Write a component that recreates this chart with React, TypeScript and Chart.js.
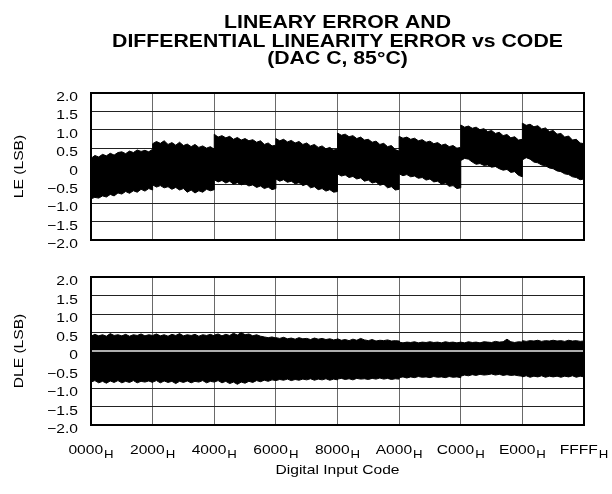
import React, { useEffect, useRef } from "react";
import { Chart, registerables } from "chart.js";
Chart.register(...registerables);

// ---------- DATA ----------
const titleLines = ["LINEARY ERROR AND", "DIFFERENTIAL LINEARITY ERROR vs CODE", "(DAC C, 85°C)"];
const xTitle = "Digital Input Code";
const leTitle = "LE (LSB)";
const dleTitle = "DLE (LSB)";

const xTickValues = [0x0000, 0x2000, 0x4000, 0x6000, 0x8000, 0xa000, 0xc000, 0xe000, 0xffff];
const xTickLabels = ["0000", "2000", "4000", "6000", "8000", "A000", "C000", "E000", "FFFF"];
const xTickSub = "H";
const yTickValues = [2, 1.5, 1, 0.5, 0, -0.5, -1, -1.5, -2];
const yTickLabels = ["2.0", "1.5", "1.0", "0.5", "0", "\u22120.5", "\u22121.0", "\u22121.5", "\u22122.0"];

// sample codes of the envelope of the noisy error band
const codes = [
  0x0000, 0x0200, 0x0400, 0x0600, 0x0800, 0x0a00, 0x0c00, 0x0e00, 0x1000, 0x1200, 0x1400, 0x1600, 0x1800, 0x1a00, 0x1c00, 0x1e00, 0x1fff,
  0x2000, 0x2200, 0x2400, 0x2600, 0x2800, 0x2a00, 0x2c00, 0x2e00, 0x3000, 0x3200, 0x3400, 0x3600, 0x3800, 0x3a00, 0x3c00, 0x3e00, 0x3fff,
  0x4000, 0x4200, 0x4400, 0x4600, 0x4800, 0x4a00, 0x4c00, 0x4e00, 0x5000, 0x5200, 0x5400, 0x5600, 0x5800, 0x5a00, 0x5c00, 0x5e00, 0x5fff,
  0x6000, 0x6200, 0x6400, 0x6600, 0x6800, 0x6a00, 0x6c00, 0x6e00, 0x7000, 0x7200, 0x7400, 0x7600, 0x7800, 0x7a00, 0x7c00, 0x7e00, 0x7fff,
  0x8000, 0x8200, 0x8400, 0x8600, 0x8800, 0x8a00, 0x8c00, 0x8e00, 0x9000, 0x9200, 0x9400, 0x9600, 0x9800, 0x9a00, 0x9c00, 0x9e00, 0x9fff,
  0xa000, 0xa200, 0xa400, 0xa600, 0xa800, 0xaa00, 0xac00, 0xae00, 0xb000, 0xb200, 0xb400, 0xb600, 0xb800, 0xba00, 0xbc00, 0xbe00, 0xbfff,
  0xc000, 0xc200, 0xc400, 0xc600, 0xc800, 0xca00, 0xcc00, 0xce00, 0xd000, 0xd200, 0xd400, 0xd600, 0xd800, 0xda00, 0xdc00, 0xde00, 0xdfff,
  0xe000, 0xe200, 0xe400, 0xe600, 0xe800, 0xea00, 0xec00, 0xee00, 0xf000, 0xf200, 0xf400, 0xf600, 0xf800, 0xfa00, 0xfc00, 0xfe00, 0xffff,
];

const leUpper = [
  0.22, 0.30, 0.26, 0.33, 0.29, 0.36, 0.31, 0.38, 0.40, 0.35, 0.42, 0.38, 0.45, 0.41, 0.44, 0.40, 0.47,
  0.62, 0.68, 0.63, 0.70, 0.60, 0.65, 0.58, 0.66, 0.57, 0.61, 0.54, 0.60, 0.52, 0.56, 0.50, 0.54, 0.47,
  0.88, 0.80, 0.84, 0.78, 0.82, 0.74, 0.79, 0.72, 0.76, 0.70, 0.73, 0.66, 0.70, 0.60, 0.64, 0.56, 0.58,
  0.76, 0.70, 0.74, 0.67, 0.71, 0.64, 0.68, 0.60, 0.64, 0.56, 0.60, 0.52, 0.56, 0.48, 0.52, 0.45, 0.47,
  0.91, 0.85, 0.88, 0.81, 0.84, 0.76, 0.80, 0.72, 0.74, 0.66, 0.69, 0.60, 0.63, 0.54, 0.57, 0.46, 0.42,
  0.82, 0.77, 0.80, 0.74, 0.77, 0.70, 0.73, 0.66, 0.69, 0.62, 0.65, 0.58, 0.61, 0.54, 0.57, 0.50, 0.52,
  1.13, 1.07, 1.10, 1.04, 1.07, 1.00, 1.03, 0.95, 0.98, 0.90, 0.93, 0.84, 0.87, 0.78, 0.81, 0.72, 0.74,
  1.18, 1.12, 1.15, 1.08, 1.11, 1.02, 1.05, 0.95, 0.98, 0.88, 0.90, 0.80, 0.83, 0.72, 0.74, 0.64, 0.62,
];
const leLower = [
  -0.88, -0.84, -0.86, -0.80, -0.83, -0.76, -0.80, -0.72, -0.75, -0.68, -0.73, -0.66, -0.70, -0.62, -0.67, -0.60, -0.64,
  -0.50, -0.56, -0.52, -0.58, -0.55, -0.62, -0.57, -0.64, -0.60, -0.70, -0.64, -0.72, -0.66, -0.70, -0.62, -0.66, -0.63,
  -0.36, -0.42, -0.38, -0.45, -0.40, -0.48, -0.44, -0.50, -0.47, -0.53, -0.50, -0.57, -0.53, -0.60, -0.56, -0.63, -0.60,
  -0.34, -0.40, -0.36, -0.43, -0.40, -0.47, -0.44, -0.52, -0.48, -0.58, -0.55, -0.63, -0.60, -0.67, -0.63, -0.70, -0.68,
  -0.20, -0.26, -0.23, -0.30, -0.27, -0.34, -0.31, -0.40, -0.37, -0.45, -0.42, -0.51, -0.48, -0.58, -0.55, -0.64, -0.62,
  -0.20, -0.25, -0.22, -0.28, -0.26, -0.32, -0.30, -0.37, -0.34, -0.42, -0.40, -0.48, -0.45, -0.54, -0.52, -0.60, -0.58,
  0.16, 0.22, 0.20, 0.12, 0.06, 0.08, 0.03, 0.04, -0.02, 0.00, -0.06, -0.10, -0.08, -0.16, -0.14, -0.24, -0.28,
  0.18, 0.24, 0.20, 0.12, 0.10, 0.04, 0.02, -0.04, -0.06, -0.12, -0.14, -0.20, -0.22, -0.28, -0.30, -0.36, -0.34,
];

const dleUpper = [
  0.40, 0.45, 0.41, 0.44, 0.40, 0.47, 0.42, 0.44, 0.41, 0.45, 0.40, 0.44, 0.42, 0.46, 0.41, 0.44, 0.42,
  0.42, 0.46, 0.41, 0.44, 0.40, 0.45, 0.42, 0.47, 0.41, 0.44, 0.42, 0.45, 0.40, 0.44, 0.42, 0.45, 0.41,
  0.43, 0.46, 0.41, 0.45, 0.42, 0.48, 0.43, 0.50, 0.44, 0.46, 0.41, 0.44, 0.40, 0.38, 0.36, 0.38, 0.35,
  0.36, 0.34, 0.37, 0.33, 0.35, 0.32, 0.36, 0.33, 0.34, 0.31, 0.35, 0.32, 0.34, 0.31, 0.33, 0.30, 0.32,
  0.33, 0.29, 0.31, 0.28, 0.32, 0.29, 0.34, 0.30, 0.28, 0.31, 0.27, 0.29, 0.28, 0.30, 0.27, 0.28, 0.27,
  0.24, 0.22, 0.24, 0.23, 0.25, 0.22, 0.24, 0.23, 0.25, 0.23, 0.24, 0.22, 0.25, 0.23, 0.24, 0.22, 0.24,
  0.24, 0.22, 0.25, 0.23, 0.24, 0.22, 0.25, 0.24, 0.23, 0.26, 0.24, 0.25, 0.32, 0.25, 0.23, 0.25, 0.24,
  0.28, 0.26, 0.28, 0.27, 0.29, 0.26, 0.28, 0.27, 0.29, 0.27, 0.28, 0.26, 0.29, 0.27, 0.28, 0.26, 0.27,
];
const dleLower = [
  -0.84, -0.80, -0.86, -0.82, -0.87, -0.81, -0.85, -0.80, -0.86, -0.82, -0.85, -0.80, -0.86, -0.82, -0.84, -0.81, -0.85,
  -0.84, -0.80, -0.86, -0.81, -0.85, -0.82, -0.88, -0.82, -0.85, -0.81, -0.86, -0.82, -0.84, -0.80, -0.86, -0.82, -0.84,
  -0.84, -0.80, -0.86, -0.82, -0.88, -0.84, -0.90, -0.84, -0.87, -0.82, -0.85, -0.80, -0.83, -0.79, -0.82, -0.78, -0.80,
  -0.80, -0.77, -0.79, -0.76, -0.80, -0.77, -0.79, -0.76, -0.78, -0.75, -0.79, -0.76, -0.78, -0.75, -0.79, -0.76, -0.78,
  -0.76, -0.74, -0.77, -0.75, -0.78, -0.74, -0.76, -0.75, -0.77, -0.74, -0.76, -0.73, -0.76, -0.74, -0.77, -0.75, -0.76,
  -0.72, -0.70, -0.73, -0.70, -0.72, -0.69, -0.71, -0.70, -0.72, -0.69, -0.71, -0.70, -0.72, -0.69, -0.71, -0.70, -0.72,
  -0.68, -0.65, -0.67, -0.64, -0.66, -0.63, -0.65, -0.64, -0.62, -0.65, -0.63, -0.66, -0.64, -0.66, -0.65, -0.67, -0.68,
  -0.70, -0.67, -0.71, -0.68, -0.70, -0.67, -0.71, -0.68, -0.70, -0.68, -0.71, -0.68, -0.70, -0.67, -0.71, -0.68, -0.70,
];
const dleZeroLine = [0, 0];
const dleZeroCodes = [0x0000, 0xffff];

// ---------- DRAWING HELPERS ----------
const FONT = "'Liberation Sans', Arial, Helvetica, sans-serif";
const SX = 1.2;

function stretchText(
  ctx: CanvasRenderingContext2D,
  text: string,
  x: number,
  y: number,
  align: "left" | "center" | "right",
  font: string,
  sx: number = SX
) {
  ctx.save();
  ctx.font = font;
  ctx.textAlign = "left";
  ctx.textBaseline = "alphabetic";
  const w = ctx.measureText(text).width * sx;
  const x0 = align === "center" ? x - w / 2 : align === "right" ? x - w : x;
  ctx.translate(x0, y);
  ctx.scale(sx, 1);
  ctx.fillStyle = "#000";
  ctx.fillText(text, 0, 0);
  ctx.restore();
  return w;
}

function textWidth(ctx: CanvasRenderingContext2D, text: string, font: string, sx: number = SX) {
  ctx.save();
  ctx.font = font;
  const w = ctx.measureText(text).width * sx;
  ctx.restore();
  return w;
}

function makeConfig(opts: {
  upper: number[];
  lower: number[];
  yTitle: string;
  padding: { left: number; right: number; top: number; bottom: number };
  isTop: boolean;
}) {
  const datasets: any[] = [
    {
      data: codes.map((c, i) => ({ x: c, y: opts.upper[i] })),
      borderColor: "#000",
      borderWidth: 1,
      pointRadius: 0,
      fill: false,
      order: 2,
    },
    {
      data: codes.map((c, i) => ({ x: c, y: opts.lower[i] })),
      borderColor: "#000",
      backgroundColor: "#000",
      borderWidth: 1,
      pointRadius: 0,
      fill: "-1",
      order: 1,
    },
  ];
  if (!opts.isTop) {
    datasets.push({
      data: dleZeroCodes.map((c, i) => ({ x: c, y: dleZeroLine[i] })),
      borderColor: "#e8e8e8",
      borderWidth: 1.5,
      pointRadius: 0,
      fill: false,
      order: -1,
    });
  }

  const textPlugin = {
    id: "texts" + (opts.isTop ? "A" : "B"),
    afterDraw(chart: any) {
      const ctx: CanvasRenderingContext2D = chart.ctx;
      const area = chart.chartArea;
      const xs = chart.scales.x;
      const ys = chart.scales.y;
      // frame
      ctx.save();
      ctx.strokeStyle = "#000";
      ctx.lineWidth = 2;
      ctx.strokeRect(area.left, area.top, area.right - area.left, area.bottom - area.top);
      ctx.restore();
      // y tick labels
      const tf = `13px ${FONT}`;
      yTickValues.forEach((v, i) => {
        stretchText(ctx, yTickLabels[i], 78, ys.getPixelForValue(v) + 8, "right", tf);
      });
      // y title
      ctx.save();
      const cy = (area.top + area.bottom) / 2;
      ctx.translate(22.7, cy);
      ctx.rotate(-Math.PI / 2);
      stretchText(ctx, opts.yTitle, 0, 0, "center", tf);
      ctx.restore();
      if (opts.isTop) {
        const bf = `bold 18px ${FONT}`;
        const cx = (area.left + area.right) / 2;
        const bases = [28, 46.5, 63.5];
        titleLines.forEach((t, i) => stretchText(ctx, t, cx, bases[i], "center", bf, 1.18));
      } else {
        const sf = `11px ${FONT}`;
        xTickValues.forEach((v, i) => {
          const px = xs.getPixelForValue(v);
          const w1 = textWidth(ctx, xTickLabels[i], tf);
          const w2 = textWidth(ctx, xTickSub, sf);
          const x0 = px - (w1 + 1 + w2) / 2;
          stretchText(ctx, xTickLabels[i], x0, area.bottom + 29, "left", tf);
          stretchText(ctx, xTickSub, x0 + w1 + 1, area.bottom + 33, "left", sf);
        });
        stretchText(ctx, xTitle, (area.left + area.right) / 2, area.bottom + 49, "center", tf);
      }
    },
  };

  return {
    type: "line" as const,
    data: { datasets },
    options: {
      responsive: false,
      animation: false as const,
      devicePixelRatio: 1,
      layout: { padding: opts.padding },
      plugins: { legend: { display: false }, tooltip: { enabled: false }, title: { display: false } },
      elements: { line: { tension: 0 } },
      scales: {
        x: {
          type: "linear" as const,
          min: 0,
          max: 0xffff,
          afterBuildTicks: (s: any) => {
            s.ticks = xTickValues.map((v) => ({ value: v }));
          },
          afterFit: (s: any) => {
            s.height = 0;
          },
          ticks: { display: false },
          grid: { color: "#6a6a6a", lineWidth: 1, drawTicks: false },
          border: { display: false },
        },
        y: {
          type: "linear" as const,
          min: -2,
          max: 2,
          afterBuildTicks: (s: any) => {
            s.ticks = yTickValues.map((v) => ({ value: v }));
          },
          afterFit: (s: any) => {
            s.width = 0;
          },
          ticks: { display: false },
          grid: { color: "#222", lineWidth: 1, drawTicks: false },
          border: { display: false },
        },
      },
    },
    plugins: [textPlugin],
  };
}

export default function App() {
  const refA = useRef<HTMLCanvasElement>(null);
  const refB = useRef<HTMLCanvasElement>(null);
  useEffect(() => {
    const a = new Chart(
      refA.current as HTMLCanvasElement,
      makeConfig({
        upper: leUpper,
        lower: leLower,
        yTitle: leTitle,
        padding: { left: 91, right: 28, top: 93, bottom: 10 },
        isTop: true,
      }) as any
    );
    const b = new Chart(
      refB.current as HTMLCanvasElement,
      makeConfig({
        upper: dleUpper,
        lower: dleLower,
        yTitle: dleTitle,
        padding: { left: 91, right: 28, top: 27, bottom: 69 },
        isTop: false,
      }) as any
    );
    return () => {
      a.destroy();
      b.destroy();
    };
  }, []);
  return (
    <div style={{ position: "absolute", left: 0, top: 0, width: 612, height: 494, background: "#fff" }}>
      <canvas
        ref={refA}
        width={612}
        height={250}
        style={{ position: "absolute", left: 0, top: 0, width: 612, height: 250 }}
      />
      <canvas
        ref={refB}
        width={612}
        height={244}
        style={{ position: "absolute", left: 0, top: 250, width: 612, height: 244 }}
      />
    </div>
  );
}
